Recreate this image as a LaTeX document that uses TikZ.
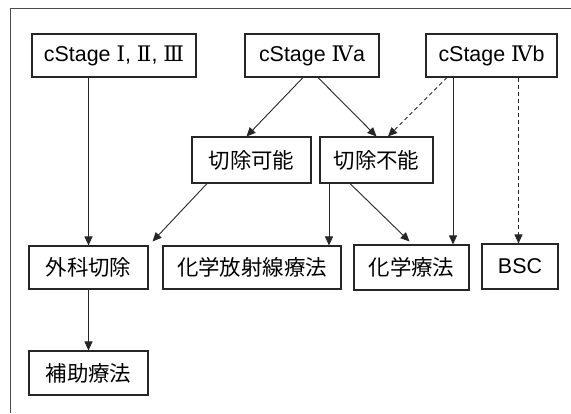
\documentclass[tikz,border=0pt]{standalone}
\usepackage{fontspec}
\setmainfont{Liberation Sans}
\newfontfamily\jp{Noto Sans CJK JP}
\newfontfamily\rn{DejaVu Serif}
\usetikzlibrary{arrows.meta}
\begin{document}
\begin{tikzpicture}[x=1bp,y=-1bp,
  box/.style={draw=black!85,line width=1.1bp,rectangle,inner sep=0pt,minimum height=43bp,
    font=\fontsize{21.5}{24}\selectfont},
  conn/.style={draw=black!85,line width=0.9bp,-{Triangle[length=9bp,width=8bp]}},
  dconn/.style={conn,dash pattern=on 4bp off 3bp}]
\useasboundingbox (0,0) rectangle (571,413);
\draw[black!70,line width=0.9bp] (10,413) -- (10,8) -- (571,8);
\node[box,minimum width=164bp] (s123) at (114,55.5) {cStage {\rn Ⅰ}, {\rn Ⅱ}, {\rn Ⅲ}};
\node[box,minimum width=134bp] (s4a) at (312,55.5) {cStage {\rn Ⅳ}a};
\node[box,minimum width=131bp] (s4b) at (491.5,55.5) {cStage {\rn Ⅳ}b};
\node[box,minimum width=119bp,minimum height=46bp] (kano) at (251.5,160) {\jp 切除可能};
\node[box,minimum width=113bp,minimum height=46bp] (funo) at (376.5,160) {\jp 切除不能};
\node[box,minimum width=119bp] (geka) at (88.5,267.5) {\jp 外科切除};
\node[box,minimum width=178bp] (crt) at (252,267.5) {\jp 化学放射線療法};
\node[box,minimum width=115bp,minimum height=45bp] (chemo) at (411.5,267.5) {\jp 化学療法};
\node[box,minimum width=76bp,minimum height=45bp] (bsc) at (520,266.5) {BSC};
\node[box,minimum width=119bp,minimum height=44bp] (hojo) at (88.5,373) {\jp 補助療法};
\draw[conn] (s123.south -| geka.north) -- (geka.north);
\draw[conn] ([xshift=-9bp]s4a.south) -- ([xshift=-5bp]kano.north);
\draw[conn] ([xshift=6bp]s4a.south) -- (funo.north);
\draw[dconn] ([xshift=-44.5bp]s4b.south) -- ([xshift=11.5bp]funo.north);
\draw[conn] ([xshift=-38.5bp]s4b.south) -- ([xshift=-38.5bp]s4b.south |- chemo.north);
\draw[dconn] ([xshift=27bp]s4b.south) -- ([xshift=27bp]s4b.south |- bsc.north);
\draw[conn] ([xshift=-44.5bp]kano.south) -- ([xshift=4bp,yshift=4bp]geka.north east);
\draw[conn] ([xshift=-47.5bp]funo.south) -- ([xshift=-47.5bp]funo.south |- crt.north);
\draw[conn] ([xshift=-26.5bp]funo.south) -- ([xshift=-2bp,yshift=3bp]chemo.north);
\draw[conn] (geka.south) -- (hojo.north);
\end{tikzpicture}
\end{document}
